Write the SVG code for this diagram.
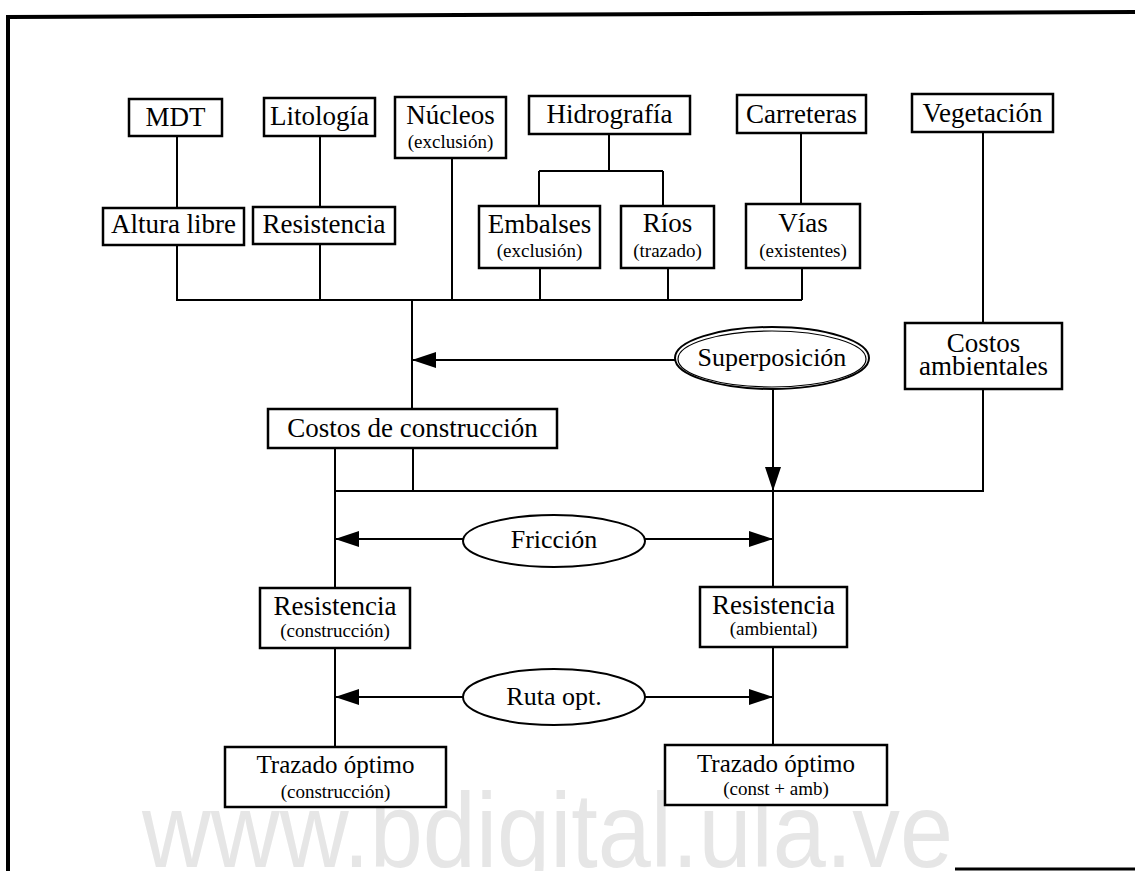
<svg xmlns="http://www.w3.org/2000/svg" width="1135" height="871" viewBox="0 0 1135 871">
<style>
.box{fill:#fff;stroke:#000;stroke-width:2.5}
.ell{fill:#fff;stroke:#000;stroke-width:2}
.ell2{fill:none;stroke:#000;stroke-width:1.2}
.ln{fill:none;stroke:#000;stroke-width:2}
.t{font-family:"Liberation Serif","Times New Roman",serif;font-size:27px;text-anchor:middle;fill:#000}
.s{font-family:"Liberation Serif","Times New Roman",serif;font-size:19px;text-anchor:middle;fill:#000}
.wm{font-family:"Liberation Sans",Arial,sans-serif;font-size:105px;fill:#e6e6e6}
</style>
<defs>
<marker id="ah" markerUnits="userSpaceOnUse" markerWidth="24" markerHeight="16" refX="24" refY="8" orient="auto">
<path d="M0,0 L24,8 L0,16 z" fill="#000"/>
</marker>
</defs>
<rect width="1135" height="871" fill="#fff"/>
<text class="wm" x="142" y="867" textLength="811" lengthAdjust="spacingAndGlyphs">www.bdigital.ula.ve</text>
<g id="border">
<polyline points="8,871 8,17 1135,12" fill="none" stroke="#000" stroke-width="4"/>
<line x1="955" y1="869" x2="1135" y2="869" stroke="#000" stroke-width="3"/>
</g>
<g id="connectors">
<path class="ln" d="M177,136 V208 M177,245 V301 M320,136 V207 M320,244 V301 M452,158 V301 M609,134 V171 M539,171 H663 M539,171 V206 M663,171 V206 M540,268 V301 M668,268 V300 M801,133 V204 M802,268 V300 M177,300 H802"/>
<path class="ln" d="M412,300 V409 M413,448 V491 M335,448 V588 M335,491 H984 M983,132 V323 M983,389 V491 M773,491 V587 M335,648 V747 M773,647 V745"/>
<line class="ln" x1="675" y1="360" x2="412" y2="360" marker-end="url(#ah)"/>
<line class="ln" x1="773" y1="389" x2="773" y2="491" marker-end="url(#ah)"/>
<line class="ln" x1="463" y1="539" x2="335" y2="539" marker-end="url(#ah)"/>
<line class="ln" x1="645" y1="539" x2="773" y2="539" marker-end="url(#ah)"/>
<line class="ln" x1="463" y1="697" x2="335" y2="697" marker-end="url(#ah)"/>
<line class="ln" x1="645" y1="697" x2="773" y2="697" marker-end="url(#ah)"/>
</g>
<g id="mdt"><rect class="box" x="129" y="99" width="93" height="37"/><text class="t" x="175.5" y="126">MDT</text></g>
<g id="litologia"><rect class="box" x="264" y="98" width="111" height="38"/><text class="t" x="319.5" y="125">Litología</text></g>
<g id="nucleos"><rect class="box" x="395" y="97" width="111" height="61"/><text class="t" x="450.5" y="124">Núcleos</text><text class="s" x="450.5" y="148">(exclusión)</text></g>
<g id="hidrografia"><rect class="box" x="529" y="96" width="161" height="38"/><text class="t" x="609.5" y="123">Hidrografía</text></g>
<g id="carreteras"><rect class="box" x="737" y="95" width="129" height="38"/><text class="t" x="801.5" y="123">Carreteras</text></g>
<g id="vegetacion"><rect class="box" x="912" y="94" width="141" height="38"/><text class="t" x="982.5" y="122">Vegetación</text></g>
<g id="altura"><rect class="box" x="103" y="208" width="141" height="37"/><text class="t" x="173.5" y="233">Altura libre</text></g>
<g id="resistencia1"><rect class="box" x="253" y="207" width="142" height="37"/><text class="t" x="324" y="233">Resistencia</text></g>
<g id="embalses"><rect class="box" x="479" y="206" width="121" height="62"/><text class="t" x="539.5" y="233">Embalses</text><text class="s" x="539.5" y="257">(exclusión)</text></g>
<g id="rios"><rect class="box" x="621" y="206" width="93" height="62"/><text class="t" x="667.5" y="232">Ríos</text><text class="s" x="667.5" y="257">(trazado)</text></g>
<g id="vias"><rect class="box" x="746" y="204" width="114" height="64"/><text class="t" x="803" y="232">Vías</text><text class="s" x="803" y="257">(existentes)</text></g>
<g id="superposicion"><ellipse class="ell" cx="772" cy="358" rx="97" ry="31"/><ellipse class="ell2" cx="772" cy="359" rx="94" ry="28"/><text class="t" x="772" y="366" style="font-size:26px">Superposición</text></g>
<g id="costos-amb"><rect class="box" x="905" y="323" width="157" height="66"/><text class="t" x="983.5" y="352">Costos</text><text class="t" x="983.5" y="375">ambientales</text></g>
<g id="costos-const"><rect class="box" x="268" y="409" width="289" height="39"/><text class="t" x="412.5" y="437">Costos de construcción</text></g>
<g id="friccion"><ellipse class="ell" cx="554" cy="541" rx="91" ry="26"/><text class="t" x="554" y="548" style="font-size:26px">Fricción</text></g>
<g id="res-const"><rect class="box" x="260" y="588" width="150" height="60"/><text class="t" x="335" y="615">Resistencia</text><text class="s" x="335" y="637">(construcción)</text></g>
<g id="res-amb"><rect class="box" x="700" y="587" width="147" height="60"/><text class="t" x="773.5" y="614">Resistencia</text><text class="s" x="773.5" y="635">(ambiental)</text></g>
<g id="ruta"><ellipse class="ell" cx="554" cy="697" rx="91" ry="28"/><text class="t" x="554" y="705" style="font-size:26px">Ruta opt.</text></g>
<g id="trazado-const"><rect class="box" x="225" y="747" width="221" height="60"/><text class="t" x="335.5" y="773" style="font-size:25px">Trazado óptimo</text><text class="s" x="335.5" y="798">(construcción)</text></g>
<g id="trazado-amb"><rect class="box" x="665" y="745" width="222" height="60"/><text class="t" x="776" y="772" style="font-size:25px">Trazado óptimo</text><text class="s" x="776" y="795">(const + amb)</text></g>
</svg>
